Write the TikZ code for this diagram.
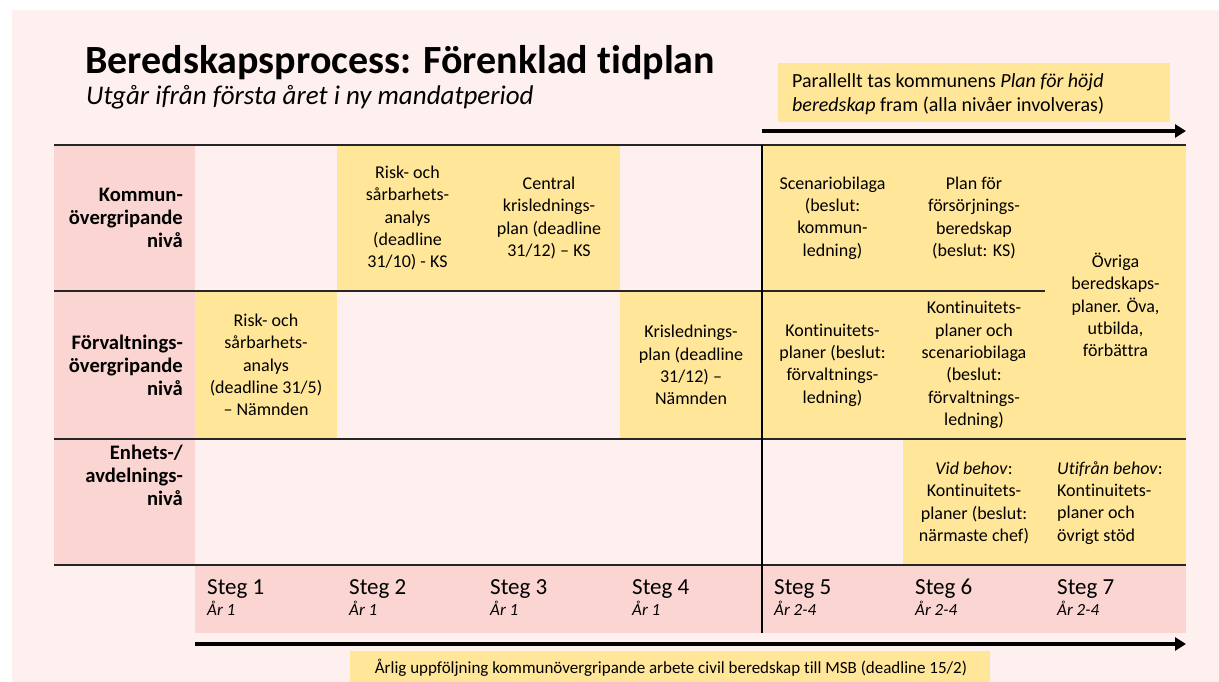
\documentclass[tikz,border=0pt]{standalone}
\usepackage{fontspec}
\setmainfont{Carlito}[Ligatures={NoCommon}]
\usetikzlibrary{arrows.meta}
\definecolor{bgpink}{HTML}{FDF0EF}
\definecolor{lblpink}{HTML}{FAD5D1}
\definecolor{gold}{HTML}{FFE699}
\definecolor{rulec}{HTML}{262626}
\newcommand\cellfnt{\fontsize{18}{22.3}\selectfont}
\tikzset{
  cell/.style={align=center, font=\cellfnt, inner sep=0pt},
  lcell/.style={align=left, font=\cellfnt, inner sep=0pt, anchor=west},
  lbl/.style={align=right, font=\fontsize{20.6}{23}\selectfont\bfseries, inner sep=0pt, anchor=east},
  stegtxt/.style={font=\fontsize{23}{26}\selectfont, inner sep=0pt, anchor=base west},
  artxt/.style={font=\fontsize{17}{20}\selectfont\itshape, inner sep=0pt, anchor=base west},
  rule/.style={draw=rulec, line width=2pt},
  bigarrow/.style={line width=4pt, -{Triangle[length=11pt,width=13pt]}},
}
\begin{document}
\begin{tikzpicture}[x=1pt,y=-1pt]
\useasboundingbox (0,0) rectangle (1219,682);
\fill[white] (0,0) rectangle (1219,682);
\fill[bgpink] (12,10) rectangle (1219,682);
% title
\node[anchor=base west, inner sep=0pt, font=\fontsize{40}{44}\selectfont\bfseries] (title) at (85,74) {Beredskapsprocess: Förenklad tidplan};
\node[anchor=base west, inner sep=0pt, font=\fontsize{27}{30}\selectfont\itshape] (subtitle) at (86,105) {Utgår ifrån första året i ny mandatperiod};
% top note
\node[fill=gold, anchor=north west, minimum width=392pt, minimum height=59pt, inner sep=0pt] (notebox) at (778,63) {};
\node[anchor=base west, inner sep=0pt, align=left, font=\fontsize{20}{24}\selectfont] (note) at (792,112) {Parallellt tas kommunens \textit{Plan för höjd}\\ \textit{beredskap} fram (alla nivåer involveras)};
\coordinate (ta) at (762,131);
\coordinate (tb) at (1186,131);
\draw[bigarrow] (ta) -- (tb);
% fills
\fill[lblpink] (54,145) rectangle (195,565);
\fill[lblpink] (195,565) rectangle (1186,633);
\fill[gold] (337,145) rectangle (620,291);
\fill[gold] (195,291) rectangle (337,439);
\fill[gold] (620,291) rectangle (762,439);
\fill[gold] (762,145) rectangle (1186,439);
\fill[gold] (903,439) rectangle (1186,565);
% rules
\draw[rule] (54,145) -- (1186,145);
\draw[rule] (54,291) -- (1045,291);
\draw[rule] (54,439) -- (1186,439);
\draw[rule] (54,565) -- (1186,565);
\draw[draw=black, line width=2pt] (762,145) -- (762,633);
% labels
\node[lbl] (l1) at (183,218) {Kommun-\\övergripande\\nivå};
\node[lbl] (l2) at (183,365) {Förvaltnings-\\övergripande\\nivå};
\node[lbl] (l3) at (183,475) {Enhets-/\\avdelnings-\\nivå};
% row 1
\node[cell] (r1c2) at (407.5,218) {Risk- och\\sårbarhets-\\analys\\(deadline\\31/10) - KS};
\node[cell] (r1c3) at (549,218) {Central\\krislednings-\\plan (deadline\\31/12) – KS};
\node[cell] (r1c5) at (832.5,218) {Scenariobilaga\\(beslut:\\kommun-\\ledning)};
\node[cell] (r1c6) at (974,218) {Plan för\\försörjnings-\\beredskap\\(beslut: KS)};
\node[cell] (r12c7) at (1115.5,305) {Övriga\\beredskaps-\\planer. Öva,\\utbilda,\\förbättra};
% row 2
\node[cell] (r2c1) at (266,365) {Risk- och\\sårbarhets-\\analys\\(deadline 31/5)\\– Nämnden};
\node[cell] (r2c4) at (691,365) {Krislednings-\\plan (deadline\\31/12) –\\Nämnden};
\node[cell] (r2c5) at (832.5,365) {Kontinuitets-\\planer (beslut:\\förvaltnings-\\ledning)};
\node[cell] (r2c6) at (974,365) {Kontinuitets-\\planer och\\scenariobilaga\\(beslut:\\förvaltnings-\\ledning)};
% row 3
\node[cell] (r3c6) at (974,503) {\textit{Vid behov}:\\Kontinuitets-\\planer (beslut:\\närmaste chef)};
\node[lcell] (r3c7) at (1057,503) {\textit{Utifrån behov}:\\Kontinuitets-\\planer och\\övrigt stöd};
% steps
\foreach \i/\x/\yr in {1/195/1,2/337/1,3/478/1,4/620/1,5/762/2-4,6/903/2-4,7/1045/2-4}{
  \node[stegtxt] (steg\i) at (\x+12,594) {Steg \i};
  \node[artxt] (ar\i) at (\x+12,615) {År \yr};
}
% bottom arrow and note
\coordinate (ba) at (195,644);
\coordinate (bb) at (1186,644);
\draw[bigarrow] (ba) -- (bb);
\node[fill=gold, anchor=north west, minimum width=640pt, minimum height=31pt, inner sep=0pt] (msbbox) at (350,651) {};
\node[inner sep=0pt, anchor=base, font=\fontsize{17}{20}\selectfont] (msb) at (671,673) {Årlig uppföljning kommunövergripande arbete civil beredskap till MSB (deadline 15/2)};
\end{tikzpicture}
\end{document}
